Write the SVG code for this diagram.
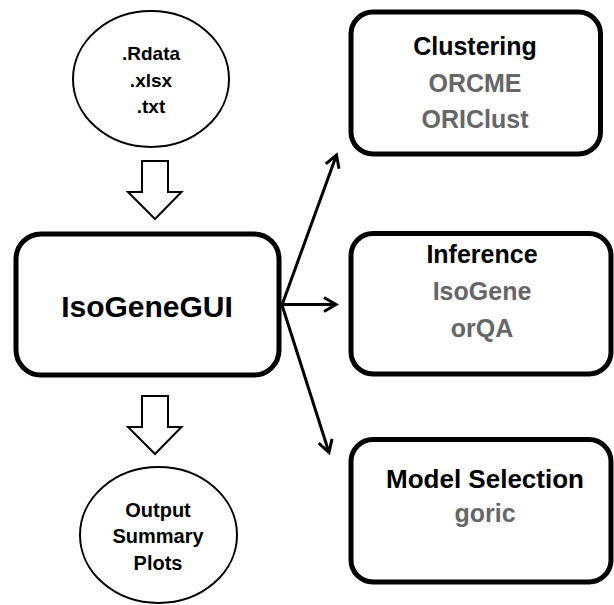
<svg xmlns="http://www.w3.org/2000/svg" width="614" height="605" viewBox="0 0 614 605">
<defs>
<style>
.box{fill:#fff;stroke:#000;stroke-width:5}
.ell{fill:#fff;stroke:#000;stroke-width:2}
.hollow{fill:#fff;stroke:#000;stroke-width:2;stroke-linejoin:miter}
.t{font-family:"Liberation Sans",Arial,sans-serif;font-weight:bold;text-anchor:middle;fill:#000}
.g{fill:#666}
.conn{fill:none;stroke:#000;stroke-width:3}
</style>
<marker id="ah" markerUnits="userSpaceOnUse" markerWidth="30" markerHeight="30" refX="0" refY="0" viewBox="-15 -15 30 30" orient="auto">
<path d="M-12,-7 L0,0 L-12,7" fill="none" stroke="#000" stroke-width="3" stroke-linejoin="miter"/>
</marker>
</defs>
<rect width="614" height="605" fill="#fff"/>
<g id="input">
<ellipse class="ell" cx="151" cy="79" rx="78" ry="68"/>
<text class="t" x="151" y="60" font-size="19">.Rdata</text>
<text class="t" x="151" y="87" font-size="19">.xlsx</text>
<text class="t" x="151" y="113" font-size="19">.txt</text>
</g>
<g id="arrow-in">
<path class="hollow" d="M142,161 L168,161 L168,192 L181.5,192 L155,219 L128,192 L142,192 Z"/>
</g>
<g id="isogenegui">
<rect class="box" x="16" y="234" width="263" height="141" rx="25" stroke-width="5.5"/>
<text class="t" x="147" y="317" font-size="30">IsoGeneGUI</text>
</g>
<g id="arrow-out">
<path class="hollow" d="M142,396 L168,396 L168,427 L181.5,427 L155,454 L128,427 L142,427 Z"/>
</g>
<g id="output">
<ellipse class="ell" cx="158.5" cy="535" rx="78.5" ry="68"/>
<text class="t" x="158" y="517" font-size="20">Output</text>
<text class="t" x="158" y="543" font-size="20">Summary</text>
<text class="t" x="158" y="570" font-size="20">Plots</text>
</g>
<g id="clustering">
<rect class="box" x="351" y="12" width="249.5" height="142" rx="22"/>
<text class="t" x="475" y="55" font-size="25">Clustering</text>
<text class="t g" x="475" y="91.5" font-size="25">ORCME</text>
<text class="t g" x="475" y="128" font-size="25">ORIClust</text>
</g>
<g id="inference">
<rect class="box" x="351" y="233.5" width="260" height="140.5" rx="22"/>
<text class="t" x="482" y="263" font-size="25">Inference</text>
<text class="t g" x="482" y="300" font-size="25">IsoGene</text>
<text class="t g" x="482" y="337" font-size="25">orQA</text>
</g>
<g id="model-selection">
<rect class="box" x="351" y="439.5" width="260" height="142.5" rx="22"/>
<text class="t" x="485" y="488" font-size="26">Model Selection</text>
<text class="t g" x="485" y="521.5" font-size="25">goric</text>
</g>
<g id="connectors">
<line class="conn" x1="282" y1="305" x2="336.5" y2="155" marker-end="url(#ah)"/>
<line class="conn" x1="282" y1="304.5" x2="336" y2="304.5" marker-end="url(#ah)"/>
<line class="conn" x1="282" y1="305" x2="329" y2="452.5" marker-end="url(#ah)"/>
</g>
</svg>
